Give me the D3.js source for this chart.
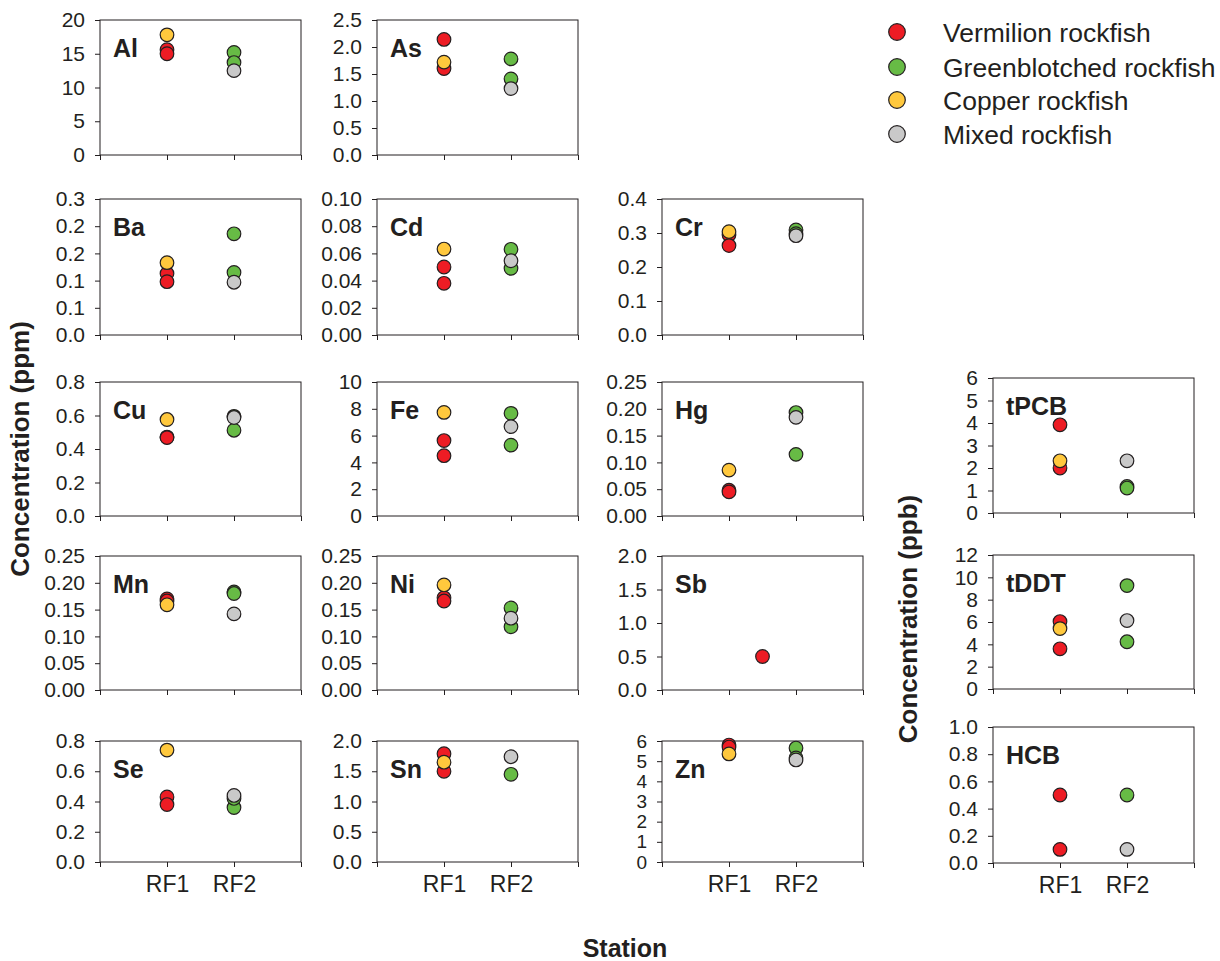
<!DOCTYPE html>
<html>
<head>
<meta charset="utf-8">
<script src="https://cdn.jsdelivr.net/npm/d3@7"></script>
<style>
body { margin: 0; background: #fff; }
text { font-family: "Liberation Sans", Arial, sans-serif; fill: #231f20; }
</style>
</head>
<body>
<div id="chart"></div>
<script>
// panels, in reading order
var elements = ["Al","As","Ba","Cd","Cr","Cu","Fe","Hg","tPCB","Mn","Ni","Sb","tDDT","Se","Sn","Zn","HCB"];

// concentrations (RF1 = vermilion & copper, RF2 = greenblotched & mixed)
var vermilion     = [[15.6,15.0],[2.14,1.60],[0.113,0.098],[0.050,0.038],[0.295,0.263],[0.471,0.468],[5.63,4.50],[0.048,0.045],[3.92,2.0],[0.170,0.166],[0.172,0.166],[0.5],[6.04,3.60],[0.43,0.38],[1.79,1.50],[5.80,5.70],[0.5,0.1]];
var greenblotched = [[15.2,13.7],[1.78,1.41],[0.186,0.115],[0.063,0.049],[0.309,0.298],[0.512,0.595],[7.66,5.29],[0.193,0.115],[1.18,1.11],[0.183,0.180],[0.153,0.118],[],[9.26,4.23],[0.36,0.42],[1.45],[5.65,5.16],[0.5]];
var copper        = [[17.8],[1.72],[0.133],[0.0632],[0.304],[0.576],[7.73],[0.0856],[2.32],[0.159],[0.196],[],[5.41],[0.74],[1.65],[5.36],[]];
var mixed         = [[12.5],[1.23],[0.097],[0.0546],[0.292],[0.588],[6.67],[0.184],[2.32],[0.142],[0.134],[],[6.13],[0.44],[1.74],[5.06],[0.1]];

// elements whose single point sits between the two stations
var midStation = ["Sb"];

var yMax = [20,2.5,0.25,0.1,0.4,0.8,10,0.25,6,0.25,0.25,2.0,12,0.8,2.0,6,1.0];
var yTickLabels = [
  ["0","5","10","15","20"],
  ["0.0","0.5","1.0","1.5","2.0","2.5"],
  ["0.0","0.1","0.1","0.2","0.2","0.3"],
  ["0.00","0.02","0.04","0.06","0.08","0.10"],
  ["0.0","0.1","0.2","0.3","0.4"],
  ["0.0","0.2","0.4","0.6","0.8"],
  ["0","2","4","6","8","10"],
  ["0.00","0.05","0.10","0.15","0.20","0.25"],
  ["0","1","2","3","4","5","6"],
  ["0.00","0.05","0.10","0.15","0.20","0.25"],
  ["0.00","0.05","0.10","0.15","0.20","0.25"],
  ["0.0","0.5","1.0","1.5","2.0"],
  ["0","2","4","6","8","10","12"],
  ["0.0","0.2","0.4","0.6","0.8"],
  ["0.0","0.5","1.0","1.5","2.0"],
  ["0","1","2","3","4","5","6"],
  ["0.0","0.2","0.4","0.6","0.8","1.0"]
];
var stations = ["RF1","RF2"];
var seriesNames = ["Vermilion rockfish","Greenblotched rockfish","Copper rockfish","Mixed rockfish"];
var seriesColors = ["#ed1c24","#67bb45","#ffc83d","#c9c9c9"];

// layout
var width = 1220, height = 961;
var colLeft = [100, 377, 662, 993];
var panelW = 201;
var rowBox = [[20,155],[199,335],[382,516],[556,690],[741,862]];
var rowBoxRight = {2:[378,513], 3:[555,689], 4:[727,863]};
var cell = [[0,0],[0,1],[1,0],[1,1],[1,2],[2,0],[2,1],[2,2],[2,3],[3,0],[3,1],[3,2],[3,3],[4,0],[4,1],[4,2],[4,3]];

var svg = d3.select("#chart").append("svg")
  .attr("width", width)
  .attr("height", height);

var allSeries = [vermilion, greenblotched, copper, mixed];
var seriesStation = [1, 2, 1, 2];

elements.forEach(function(el, i){
  var r = cell[i][0], c = cell[i][1];
  var box = (c == 3) ? rowBoxRight[r] : rowBox[r];
  var left = colLeft[c];

  var x = d3.scaleLinear().domain([0,3]).range([left, left + panelW]);
  var y = d3.scaleLinear().domain([0, yMax[i]]).range([box[1], box[0]]);

  var g = svg.append("g").attr("class", "panel");

  // frame
  g.append("rect")
    .attr("x", left).attr("y", box[0])
    .attr("width", panelW).attr("height", box[1] - box[0])
    .attr("fill", "none").attr("stroke", "#231f20").attr("stroke-width", 1);

  // y axis
  var labels = yTickLabels[i];
  var tv = labels.map(function(d, k){ return k * yMax[i] / (labels.length - 1); });
  // tight scales (1 unit per ~20px) get a slightly smaller font
  var fs = (box[1] - box[0]) / (labels.length - 1) < 21 ? "19px" : "21px";
  var yAxis = d3.axisLeft(y).tickValues(tv).tickSize(5).tickPadding(10)
    .tickFormat(function(d, k){ return labels[k]; });
  var ya = g.append("g").attr("transform", "translate(" + left + ",0)").call(yAxis);
  ya.select(".domain").remove();
  ya.selectAll("line").attr("stroke", "#231f20");
  ya.selectAll("text").style("font-size", fs).attr("fill", "#231f20");

  // x axis
  var xAxis = d3.axisBottom(x).tickValues([0,1,2,3]).tickSize(5)
    .tickFormat(function(d){ return (r == 4 && (d == 1 || d == 2)) ? stations[d - 1] : ""; })
    .tickPadding(9);
  var xa = g.append("g").attr("transform", "translate(0," + box[1] + ")").call(xAxis);
  xa.select(".domain").remove();
  xa.selectAll("line").attr("stroke", "#231f20");
  xa.selectAll("text").style("font-size", "23px").attr("fill", "#231f20");

  // element label
  g.append("text")
    .attr("x", left + 13).attr("y", box[0] + 37)
    .style("font-size", "25px").style("font-weight", "bold")
    .text(el);

  // points
  allSeries.forEach(function(s, k){
    var st = midStation.indexOf(el) >= 0 ? 1.5 : seriesStation[k];
    g.selectAll(null).data(s[i]).enter()
      .append("circle")
      .attr("cx", x(st))
      .attr("cy", function(d){ return y(d); })
      .attr("r", 6.8)
      .attr("fill", seriesColors[k])
      .attr("stroke", "#231f20")
      .attr("stroke-width", 1.2);
  });
});

// legend
var legend = svg.append("g").attr("transform", "translate(897,0)");
var legendY = [32, 67, 100, 134];
seriesNames.forEach(function(n, k){
  legend.append("circle")
    .attr("cx", 0).attr("cy", legendY[k]).attr("r", 8.3)
    .attr("fill", seriesColors[k]).attr("stroke", "#231f20").attr("stroke-width", 1.2);
  legend.append("text")
    .attr("x", 46).attr("y", legendY[k]).attr("dy", "0.36em")
    .style("font-size", "26.5px")
    .text(n);
});

// axis titles
svg.append("text")
  .attr("transform", "translate(29,449) rotate(-90)")
  .attr("text-anchor", "middle")
  .style("font-size", "26px").style("font-weight", "bold")
  .text("Concentration (ppm)");

svg.append("text")
  .attr("transform", "translate(917,619) rotate(-90)")
  .attr("text-anchor", "middle")
  .style("font-size", "26px").style("font-weight", "bold")
  .text("Concentration (ppb)");

svg.append("text")
  .attr("x", 625).attr("y", 957)
  .attr("text-anchor", "middle")
  .style("font-size", "25px").style("font-weight", "bold")
  .text("Station");
</script>
</body>
</html>
